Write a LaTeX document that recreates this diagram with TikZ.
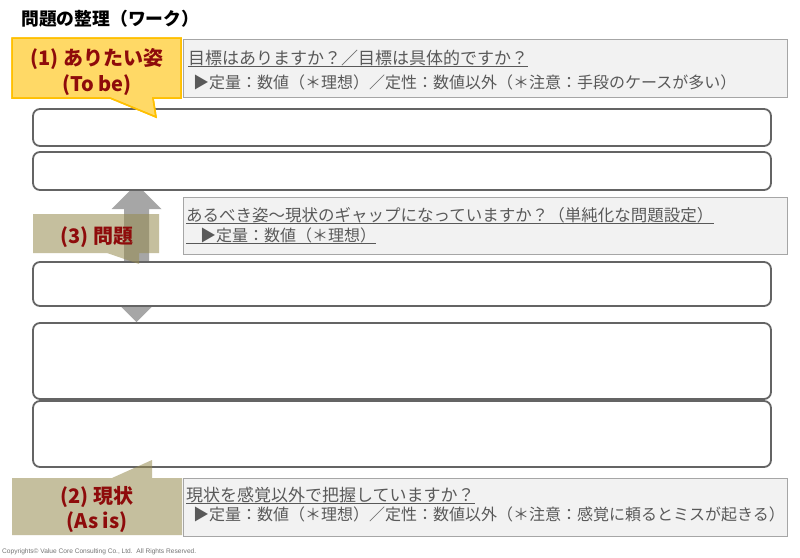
\documentclass[tikz,border=0pt]{standalone}
\usepackage{fontspec}
\setmainfont{Noto Sans CJK JP}
\newfontfamily\latfont{Liberation Sans}
\definecolor{slotgray}{HTML}{646464}
\definecolor{qborder}{HTML}{A6A6A6}
\definecolor{qfill}{HTML}{F2F2F2}
\definecolor{qtextc}{HTML}{595959}
\definecolor{arrowgray}{HTML}{A6A6A6}
\definecolor{tagred}{HTML}{8E0B0B}
\definecolor{yelfill}{HTML}{FFD966}
\definecolor{yeldraw}{HTML}{FFC000}
\definecolor{olive}{HTML}{978C50}
\tikzset{
  slot/.style={draw=slotgray, line width=1.8pt, rounded corners=7pt, fill=white, inner sep=0pt, outer sep=0pt, minimum width=738pt},
  qbox/.style={draw=qborder, line width=1pt, fill=qfill, inner sep=0pt, outer sep=0pt, minimum width=604pt},
  qline/.style={anchor=base west, inner sep=0pt, text=qtextc, font=\fontsize{17}{20}\selectfont},
  qline2/.style={anchor=base west, inner sep=0pt, text=qtextc, font=\fontsize{16}{19}\selectfont},
  uline/.style={draw=qtextc, line width=0.9pt},
  tagtext/.style={anchor=base, inner sep=0pt, text=tagred, font=\bfseries\fontsize{20}{24}\selectfont},
  yelcall/.style={fill=yelfill, draw=yeldraw, line width=1.5pt, line join=miter},
  olivecall/.style={fill=olive, fill opacity=0.55},
  blockarrow/.style={fill=arrowgray, draw=none}
}
\begin{document}
\begin{tikzpicture}[x=1pt,y=-1pt]
\useasboundingbox (0,0) rectangle (800,557);
\fill[white] (0,0) rectangle (800,557);

% title
\node[anchor=base west, inner sep=0pt, font=\bfseries\fontsize{17.8}{20}\selectfont] (title) at (21,25.5) {問題の整理（ワーク）};

% double block arrow (behind boxes)
\coordinate (atop) at (136.5,184);
\coordinate (abot) at (136.5,322);
\fill[blockarrow] (atop) -- (161.5,209) -- (149,209) -- (149,297) -- (161.5,297) -- (abot)
  -- (111.5,297) -- (124,297) -- (124,209) -- (111.5,209) -- cycle;

% slots
\node[slot, minimum height=37pt] (r1) at (402,127.5) {};
\node[slot, minimum height=38pt] (r2) at (402,171) {};
\node[slot, minimum height=44pt] (r3) at (402,284) {};
\node[slot, minimum height=76pt] (r4) at (402,361) {};
\node[slot, minimum height=66pt] (r5) at (402,434) {};

% question boxes
\node[qbox, minimum height=58pt] (g1) at (485,68) {};
\node[qbox, minimum height=57pt] (g2) at (485,225.5) {};
\node[qbox, minimum height=58pt] (g3) at (485,507) {};

% box 1 texts
\node[qline] (g1a) at (188,64.5) {目標はありますか？／目標は具体的ですか？};
\draw[uline] ([yshift=-2.2pt]g1a.base west) -- ([yshift=-2.2pt]g1a.base east);
\node[qline2] (g1b) at (193,88.5) {▶定量：数値（＊理想）／定性：数値以外（＊注意：手段のケースが多い）};

% box 2 texts
\node[qline, font=\fontsize{16.5}{20}\selectfont] (g2a) at (186,221.5) {あるべき姿～現状のギャップになっていますか？（単純化な問題設定）};
\draw[uline] ([yshift=-2.2pt]g2a.base west) -- ([yshift=-2.2pt]g2a.base east);
\node[qline2] (g2b) at (186,241) {\hspace{14pt}▶定量：数値（＊理想）};
\draw[uline] ([yshift=-2.2pt]g2b.base west) -- ([yshift=-2.2pt]g2b.base east);

% box 3 texts
\node[qline] (g3a) at (186,501.5) {現状を感覚以外で把握していますか？};
\draw[uline] ([yshift=-2.2pt]g3a.base west) -- ([yshift=-2.2pt]g3a.base east);
\node[qline2] (g3b) at (193,520.5) {▶定量：数値（＊理想）／定性：数値以外（＊注意：感覚に頼るとミスが起きる）};

% callout (1)
\fill[yelcall] (12,38) -- (181,38) -- (181,98) -- (153,98) -- (156,117) -- (110,98) -- (12,98) -- cycle;
\node[tagtext] (c1a) at (97,65) {(1) ありたい姿};
\node[tagtext] (c1b) at (97,91) {(To be)};
\draw[yelcall, fill=none] (12,38) -- (181,38) -- (181,98) -- (153,98) -- (156,117) -- (110,98) -- (12,98) -- cycle;

% callout (3)
\fill[olivecall] (33,214) -- (159,214) -- (159,253) -- (139,253) -- (139,264) -- (107,253) -- (33,253) -- cycle;
\node[tagtext] (c3) at (97,243.5) {(3) 問題};

% callout (2)
\fill[olivecall] (12,478) -- (112,478) -- (152,460) -- (152,478) -- (182,478) -- (182,535) -- (12,535) -- cycle;
\node[tagtext] (c2a) at (97,503) {(2) 現状};
\node[tagtext] (c2b) at (97,528) {(As is)};

% copyright
\node[anchor=west, inner sep=0pt, text=black!55, font=\latfont\fontsize{6.6}{7}\selectfont] (copy) at (2,551.5) {Copyrights\textcopyright\ Value Core Consulting Co., Ltd.\ \ All Rights Reserved.};
\end{tikzpicture}
\end{document}
